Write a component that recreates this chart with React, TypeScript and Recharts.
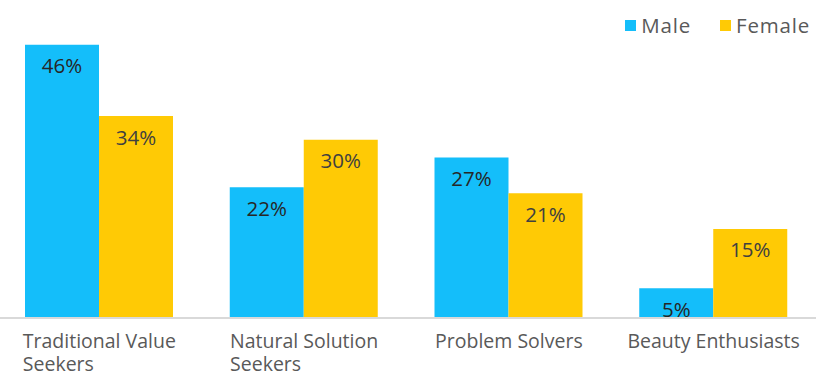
import React from "react";
import { BarChart, Bar, XAxis, YAxis, LabelList } from "recharts";

const categories = ["Traditional Value Seekers", "Natural Solution Seekers", "Problem Solvers", "Beauty Enthusiasts"];
const maleValues = [46, 22, 27, 5];
const femaleValues = [34, 30, 21, 15];
const seriesNames = ["Male", "Female"];
const colors = ["#14BEFA", "#FFCA05"];

const data = categories.map((c, i) => ({ name: c, male: maleValues[i], female: femaleValues[i] }));

const FONT = "'Open Sans', sans-serif";
const TICK_SIZE = 19.5;

let ctx: CanvasRenderingContext2D | null = null;
function measure(t: string): number {
  if (!ctx) {
    const c = document.createElement("canvas");
    ctx = c.getContext("2d");
  }
  if (!ctx) return t.length * 9.5;
  ctx.font = `${TICK_SIZE}px 'Open Sans'`;
  return ctx.measureText(t).width;
}

function wrap(text: string, maxW: number): string[] {
  const words = text.split(" ");
  const lines: string[] = [];
  let cur = "";
  for (const w of words) {
    const t = cur ? cur + " " + w : w;
    if (measure(t) > maxW && cur) {
      lines.push(cur);
      cur = w;
    } else cur = t;
  }
  if (cur) lines.push(cur);
  return lines;
}

const Tick = (props: any) => {
  const { x, y, payload } = props;
  const lines = wrap(String(payload.value), 190);
  const w = Math.max(...lines.map(measure));
  const x0 = x - w / 2;
  return (
    <text x={x0} y={y} textAnchor="start" fill="#595959" fontSize={TICK_SIZE} fontFamily={FONT}>
      {lines.map((l, i) => (
        <tspan key={i} x={x0} dy={i === 0 ? 22 : 23}>
          {l}
        </tspan>
      ))}
    </text>
  );
};

const LegendOverlay = () => (
  <div
    style={{
      position: "absolute",
      top: 13,
      right: 19,
      display: "flex",
      alignItems: "center",
      fontFamily: FONT,
      fontSize: 20.5,
      letterSpacing: 0.8,
      color: "#595959",
      lineHeight: "24px",
    }}
  >
    {seriesNames.map((n, i) => (
      <div key={n} style={{ display: "flex", alignItems: "center", marginLeft: i === 0 ? 0 : 29 }}>
        <div style={{ width: 11, height: 11, background: colors[i], marginRight: 5 }} />
        <span>{n}</span>
      </div>
    ))}
  </div>
);

export default function App() {
  return (
    <div style={{ position: "absolute", left: 0, top: 0, width: 829, height: 375 }}>
      <BarChart
        width={829}
        height={375}
        data={data}
        margin={{ top: 21, right: 13, bottom: 0, left: -3 }}
        barCategoryGap={28}
        barGap={0}
      >
        <XAxis
          dataKey="name"
          axisLine={{ stroke: "#D9D9D9", strokeWidth: 2 }}
          tickLine={false}
          height={57}
          tick={<Tick />}
          interval={0}
        />
        <YAxis hide domain={[0, 50]} />
        <Bar dataKey="male" name={seriesNames[0]} fill={colors[0]} isAnimationActive={false}>
          <LabelList
            dataKey="male"
            position="insideTop"
            offset={14}
            formatter={(v: any) => `${v}%`}
            fill="#262626"
            fontSize={20.5}
            fontFamily={FONT}
          />
        </Bar>
        <Bar dataKey="female" name={seriesNames[1]} fill={colors[1]} isAnimationActive={false}>
          <LabelList
            dataKey="female"
            position="insideTop"
            offset={14}
            formatter={(v: any) => `${v}%`}
            fill="#404040"
            fontSize={20.5}
            fontFamily={FONT}
          />
        </Bar>
      </BarChart>
      <LegendOverlay />
    </div>
  );
}
